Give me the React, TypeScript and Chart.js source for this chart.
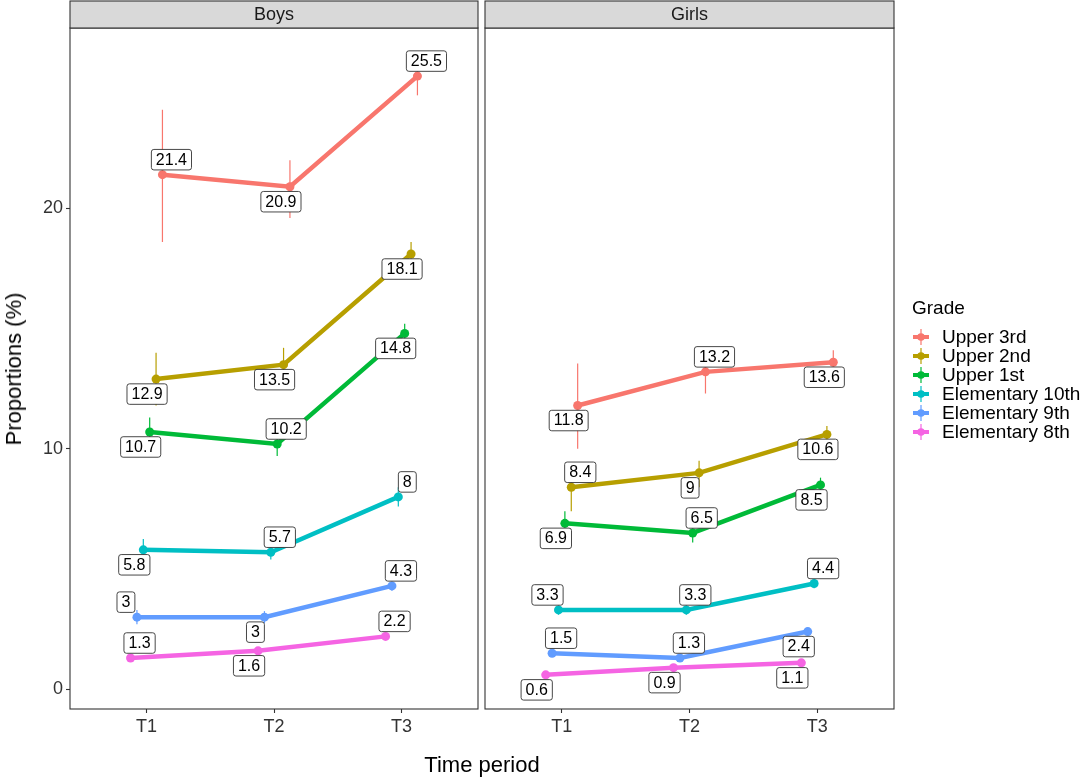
import { useEffect, useRef } from 'react'
import { Chart, registerables } from 'chart.js'

Chart.register(...registerables)

const FONT = '"Liberation Sans", Arial, Helvetica, sans-serif'

const timeLabels = ['T1', 'T2', 'T3']
const yTicks = [0, 10, 20]
const grades = ['Upper 3rd', 'Upper 2nd', 'Upper 1st', 'Elementary 10th', 'Elementary 9th', 'Elementary 8th']
const gradeColors = ['#F8766D', '#B79F00', '#00BA38', '#00BFC4', '#619CFF', '#F564E3']

// one row per grade, one column per time period
const boysMean = [
  [21.4, 20.9, 25.5],
  [12.9, 13.5, 18.1],
  [10.7, 10.2, 14.8],
  [5.8, 5.7, 8],
  [3, 3, 4.3],
  [1.3, 1.6, 2.2],
]
const boysLow = [
  [18.6, 19.6, 24.7],
  [11.8, 12.8, 17.6],
  [10.1, 9.7, 14.4],
  [5.35, 5.4, 7.6],
  [2.7, 2.75, 4.1],
  [1.2, 1.5, 2.1],
]
const boysHigh = [
  [24.1, 22.0, 26.3],
  [14.0, 14.2, 18.6],
  [11.3, 10.7, 15.2],
  [6.25, 6.0, 8.4],
  [3.3, 3.25, 4.5],
  [1.4, 1.7, 2.3],
]

const girlsMean = [
  [11.8, 13.2, 13.6],
  [8.4, 9, 10.6],
  [6.9, 6.5, 8.5],
  [3.3, 3.3, 4.4],
  [1.5, 1.3, 2.4],
  [0.6, 0.9, 1.1],
]
const girlsLow = [
  [10.0, 12.3, 13.0],
  [7.4, 8.4, 10.2],
  [6.4, 6.1, 8.2],
  [3.1, 3.1, 4.2],
  [1.4, 1.2, 2.3],
  [0.5, 0.8, 1.0],
]
const girlsHigh = [
  [13.55, 14.0, 14.1],
  [9.4, 9.5, 10.95],
  [7.4, 6.9, 8.8],
  [3.5, 3.5, 4.6],
  [1.6, 1.4, 2.5],
  [0.7, 1.0, 1.2],
]

// where each value label sits relative to its point
const boysLabelSide = [
  ['up', 'down', 'up'],
  ['down', 'down', 'down'],
  ['down', 'up', 'down'],
  ['down', 'up', 'up'],
  ['upLeft', 'down', 'up'],
  ['up', 'down', 'up'],
]
const girlsLabelSide = [
  ['down', 'up', 'down'],
  ['up', 'down', 'down'],
  ['down', 'up', 'down'],
  ['upLeft', 'up', 'up'],
  ['up', 'up', 'down'],
  ['down', 'down', 'down'],
]

const sideOffsets: Record<string, [number, number]> = {
  up: [9, -15],
  down: [-9, 15],
  upLeft: [-11, -15],
}

// position_dodge(width = 0.3) over 6 groups
const dodge = (gi: number) => (2.5 - gi) * 0.05

interface Panel {
  title: string
  mean: number[][]
  low: number[][]
  high: number[][]
  side: string[][]
  showY: boolean
  padLeft: number
  padRight: number
}

function makeChart(canvas: HTMLCanvasElement, p: Panel) {
  const datasets = grades.map((g, gi) => ({
    label: g,
    data: p.mean[gi].map((v, ti) => ({ x: ti + 1 + dodge(gi), y: v })),
    borderColor: gradeColors[gi],
    backgroundColor: gradeColors[gi],
    borderWidth: 4.5,
    pointRadius: 4.5,
    pointHoverRadius: 4.5,
    pointBorderWidth: 0,
    tension: 0,
  }))

  const panelPlugin = {
    id: 'panel',
    afterDatasetsDraw(chart: any) {
      const { ctx, scales } = chart
      const x = scales.x
      const y = scales.y
      ctx.save()
      // error bars
      grades.forEach((_, gi) => {
        ctx.strokeStyle = gradeColors[gi]
        ctx.lineWidth = 1.2
        p.mean[gi].forEach((__, ti) => {
          const px = x.getPixelForValue(ti + 1 + dodge(gi))
          ctx.beginPath()
          ctx.moveTo(px, y.getPixelForValue(p.low[gi][ti]))
          ctx.lineTo(px, y.getPixelForValue(p.high[gi][ti]))
          ctx.stroke()
        })
      })
      // value labels
      ctx.font = `16px ${FONT}`
      ctx.textAlign = 'center'
      ctx.textBaseline = 'middle'
      grades.forEach((_, gi) => {
        p.mean[gi].forEach((v, ti) => {
          const off = sideOffsets[p.side[gi][ti]]
          const cx = x.getPixelForValue(ti + 1 + dodge(gi)) + off[0]
          const cy = y.getPixelForValue(v) + off[1]
          const txt = String(v)
          const w = ctx.measureText(txt).width + 9
          const h = 20.5
          ctx.beginPath()
          ctx.roundRect(cx - w / 2, cy - h / 2, w, h, 2.5)
          ctx.fillStyle = '#ffffff'
          ctx.fill()
          ctx.strokeStyle = '#333333'
          ctx.lineWidth = 0.9
          ctx.stroke()
          ctx.fillStyle = '#000000'
          ctx.fillText(txt, cx, cy + 0.5)
        })
      })
      ctx.restore()
    },
    afterDraw(chart: any) {
      const { ctx, chartArea: a } = chart
      ctx.save()
      ctx.strokeStyle = '#333333'
      ctx.lineWidth = 1.1
      ctx.strokeRect(a.left, a.top, a.right - a.left, a.bottom - a.top)
      // facet strip
      ctx.fillStyle = '#D9D9D9'
      ctx.fillRect(a.left, 1, a.right - a.left, a.top - 1)
      ctx.strokeRect(a.left, 1, a.right - a.left, a.top - 1)
      ctx.fillStyle = '#1A1A1A'
      ctx.font = `18px ${FONT}`
      ctx.textAlign = 'center'
      ctx.textBaseline = 'middle'
      ctx.fillText(p.title, (a.left + a.right) / 2, (a.top + 1) / 2 + 1)
      ctx.restore()
    },
  }

  return new Chart(canvas, {
    type: 'line',
    data: { datasets },
    plugins: [panelPlugin],
    options: {
      responsive: false,
      animation: false,
      events: [],
      layout: { padding: { left: p.padLeft, right: p.padRight, top: 28, bottom: 37 } },
      plugins: { legend: { display: false }, tooltip: { enabled: false } },
      scales: {
        x: {
          type: 'linear',
          min: 0.4,
          max: 3.6,
          afterBuildTicks: (s: any) => { s.ticks = timeLabels.map((_, i) => ({ value: i + 1 })) },
          afterFit: (s: any) => { s.height = 31 },
          ticks: {
            color: '#333333',
            font: { family: FONT, size: 18 },
            padding: 3,
            maxRotation: 0,
            callback: (v: any) => timeLabels[Math.round(Number(v)) - 1] ?? '',
          },
          grid: { drawOnChartArea: false, drawTicks: true, tickLength: 4, tickColor: '#333333', tickWidth: 1.1 },
          border: { display: false },
        },
        y: {
          type: 'linear',
          display: p.showY,
          min: -0.82,
          max: 27.5,
          afterBuildTicks: (s: any) => { s.ticks = yTicks.map(value => ({ value })) },
          afterFit: (s: any) => { s.width = p.showY ? 70 : 0 },
          ticks: { color: '#333333', font: { family: FONT, size: 18 }, padding: 3 },
          grid: { drawOnChartArea: false, drawTicks: true, tickLength: 4, tickColor: '#333333', tickWidth: 1.1 },
          border: { display: false },
        },
      },
    },
  } as any)
}

function LegendKey({ color }: { color: string }) {
  return (
    <svg width={20} height={18} style={{ display: 'block' }}>
      <line x1={2} y1={9} x2={18} y2={9} stroke={color} strokeWidth={4} />
      <line x1={10} y1={1} x2={10} y2={17} stroke={color} strokeWidth={1.2} />
      <circle cx={10} cy={9} r={3.8} fill={color} />
    </svg>
  )
}

export default function App() {
  const boysRef = useRef<HTMLCanvasElement>(null)
  const girlsRef = useRef<HTMLCanvasElement>(null)

  useEffect(() => {
    if (!boysRef.current || !girlsRef.current) return
    const boys = makeChart(boysRef.current, {
      title: 'Boys', mean: boysMean, low: boysLow, high: boysHigh, side: boysLabelSide,
      showY: true, padLeft: 0, padRight: 1084 - 478,
    })
    const girls = makeChart(girlsRef.current, {
      title: 'Girls', mean: girlsMean, low: girlsLow, high: girlsHigh, side: girlsLabelSide,
      showY: false, padLeft: 485, padRight: 1084 - 894,
    })
    return () => { boys.destroy(); girls.destroy() }
  }, [])

  const canvasStyle = { position: 'absolute' as const, left: 0, top: 0 }

  return (
    <div style={{ position: 'absolute', left: 0, top: 0, width: 1084, height: 777, background: '#fff', fontFamily: FONT, overflow: 'hidden' }}>
      <canvas ref={boysRef} width={1084} height={777} style={canvasStyle} />
      <canvas ref={girlsRef} width={1084} height={777} style={canvasStyle} />
      <div style={{ position: 'absolute', left: 482, top: 765, transform: 'translate(-50%, -50%)', fontSize: 22, color: '#000', whiteSpace: 'nowrap' }}>
        Time period
      </div>
      <div style={{ position: 'absolute', left: 14, top: 369, transform: 'translate(-50%, -50%) rotate(-90deg)', fontSize: 22, color: '#000', whiteSpace: 'nowrap' }}>
        Proportions (%)
      </div>
      <div style={{ position: 'absolute', left: 912, top: 297, fontSize: 19, color: '#000', lineHeight: '22px' }}>Grade</div>
      {grades.map((g, gi) => (
        <div key={g} style={{ position: 'absolute', left: 911, top: 337 + gi * 18.9 - 9, height: 18, display: 'flex', alignItems: 'center', whiteSpace: 'nowrap' }}>
          <LegendKey color={gradeColors[gi]} />
          <span style={{ marginLeft: 11, fontSize: 19, color: '#000', lineHeight: '18px' }}>{g}</span>
        </div>
      ))}
    </div>
  )
}
